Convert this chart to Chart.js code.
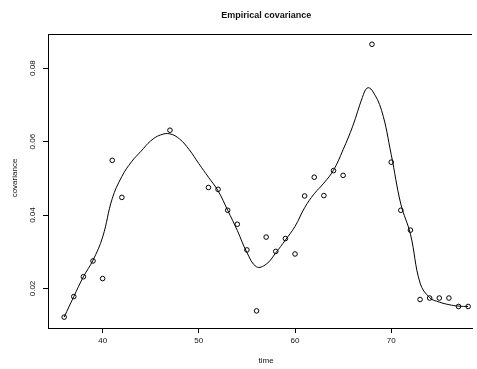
<!DOCTYPE html>
<html>
<head>
<meta charset="utf-8">
<script src="https://cdn.jsdelivr.net/npm/chart.js@4"></script>
<style>
html,body{margin:0;padding:0;background:#fff;overflow:hidden;}
canvas{display:block;}
</style>
</head>
<body>
<canvas id="c" width="477" height="369"></canvas>
<script>
// Observed empirical covariance points
const timeObs = [36,37,38,39,40,41,42,47,51,52,53,54,55,56,57,58,59,60,61,62,63,64,65,68,70,71,72,73,74,75,76,77,78];
const covObs  = [0.0122,0.0178,0.0232,0.0275,0.0227,0.0549,0.0448,0.0631,0.0475,0.0470,0.0413,0.0375,0.0305,0.0139,0.0340,0.0301,0.0336,0.0294,0.0452,0.0503,0.0453,0.0521,0.0508,0.0865,0.0544,0.0413,0.0359,0.0170,0.0174,0.0174,0.0174,0.0151,0.0151];

// Smoothed curve
const timeFit = [36,37,38,39,40,41,42,43,44,45,46,47,48,49,50,51,52,53,54,55,56,57,58,59,60,61,62,63,64,65,66,67,67.5,68,69,70,71,72,73,74,75,76,77,78];
const covFit  = [0.0122,0.0178,0.0232,0.0277,0.0340,0.0445,0.0505,0.0545,0.0574,0.0602,0.0618,0.0621,0.0607,0.0578,0.0540,0.0503,0.0466,0.0413,0.0358,0.0298,0.0259,0.0266,0.0297,0.0332,0.0369,0.0420,0.0458,0.0487,0.0522,0.0578,0.0642,0.0720,0.0746,0.0740,0.0685,0.0565,0.0430,0.0348,0.0215,0.0175,0.0163,0.0156,0.0152,0.0151];

// Axis ticks and labels
const xTicks = [40,50,60,70];
const yTicks = [0.02,0.04,0.06,0.08];
const titleText = "Empirical covariance";
const xTitle = "time";
const yTitle = "covariance";

const FONT = '"Liberation Sans", Arial, Helvetica, sans-serif';

const textPlugin = {
  id: 'rtext',
  afterDraw(chart) {
    const ctx = chart.ctx;
    const a = chart.chartArea;
    const xs = chart.scales.x;
    const cx = xs.getPixelForValue(34.32 + (79.68 - 34.32) / 2);
    ctx.save();
    ctx.strokeStyle = '#000';
    ctx.lineWidth = 1;
    ctx.beginPath();
    ctx.moveTo(a.left, Math.round(a.top) + 0.5);
    ctx.lineTo(a.right, Math.round(a.top) + 0.5);
    ctx.stroke();
    ctx.fillStyle = '#111';
    ctx.textAlign = 'center';
    ctx.textBaseline = 'middle';
    ctx.font = 'bold 9px ' + FONT;
    ctx.fillText(titleText, cx, 16);
    ctx.font = '8px ' + FONT;
    ctx.fillText(xTitle, cx, 361);
    ctx.translate(15, (a.top + a.bottom) / 2 - 3);
    ctx.rotate(-Math.PI / 2);
    ctx.fillText(yTitle, 0, 0);
    ctx.restore();
  }
};

new Chart(document.getElementById('c'), {
  type: 'scatter',
  data: {
    datasets: [
      {
        data: timeFit.map((t, i) => ({x: t, y: covFit[i]})),
        showLine: true,
        borderColor: '#000',
        borderWidth: 1,
        pointRadius: 0,
        tension: 0.4,
        fill: false
      },
      {
        data: timeObs.map((t, i) => ({x: t, y: covObs[i]})),
        showLine: false,
        pointRadius: 2.3,
        pointBorderWidth: 1,
        pointBorderColor: '#000',
        pointBackgroundColor: 'rgba(0,0,0,0)',
        clip: false
      }
    ]
  },
  options: {
    responsive: false,
    animation: false,
    devicePixelRatio: 1,
    layout: {padding: {top: 34, left: 0, right: 0, bottom: 0}},
    plugins: {legend: {display: false}, title: {display: false}, tooltip: {enabled: false}},
    scales: {
      x: {
        type: 'linear',
        min: 34.32,
        max: 78.4,
        afterFit: s => { s.height = 41; },
        afterBuildTicks: s => { s.ticks = xTicks.map(v => ({value: v})); },
        grid: {drawOnChartArea: false, drawTicks: true, tickLength: 5, color: '#000'},
        border: {display: true, color: '#000', width: 1},
        ticks: {
          font: {family: FONT, size: 8},
          color: '#111',
          padding: 3,
          maxRotation: 0,
          autoSkip: false,
          callback: v => String(v)
        }
      },
      y: {
        type: 'linear',
        min: 0.00924,
        max: 0.0893,
        afterFit: s => { s.width = 48; },
        afterBuildTicks: s => { s.ticks = yTicks.map(v => ({value: v})); },
        grid: {drawOnChartArea: false, drawTicks: true, tickLength: 5, color: '#000'},
        border: {display: true, color: '#000', width: 1},
        ticks: {
          font: {family: FONT, size: 8},
          color: '#111',
          padding: 2,
          minRotation: 90,
          maxRotation: 90,
          crossAlign: 'center',
          autoSkip: false,
          callback: v => v.toFixed(2)
        }
      }
    }
  },
  plugins: [textPlugin]
});
</script>
</body>
</html>
